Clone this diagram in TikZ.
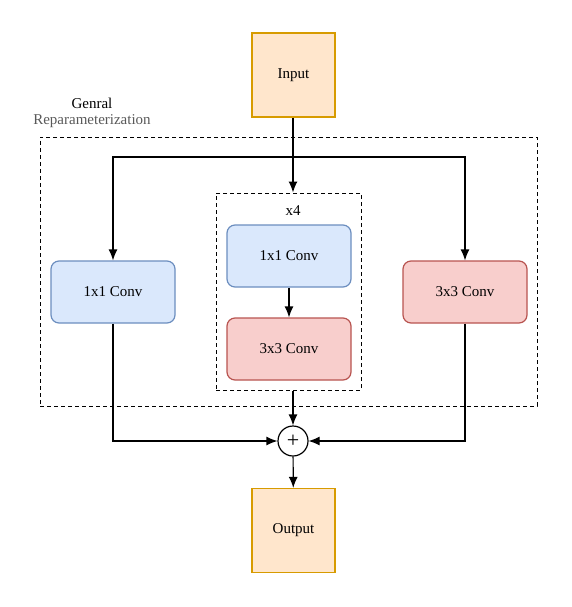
\documentclass[tikz,border=0pt]{standalone}
\usepackage{fontspec}
\setmainfont{Liberation Serif}
\usetikzlibrary{positioning, arrows.meta}
\definecolor{ioFill}{HTML}{FFE6CC}
\definecolor{ioLine}{HTML}{D79B00}
\definecolor{blueFill}{HTML}{DAE8FC}
\definecolor{blueLine}{HTML}{6C8EBF}
\definecolor{redFill}{HTML}{F8CECC}
\definecolor{redLine}{HTML}{B85450}
\begin{document}
\begin{tikzpicture}[x=1pt, y=-1pt, line width=1.2pt,
  font=\fontsize{15}{17}\selectfont,
  io/.style={draw=ioLine, fill=ioFill, minimum width=83pt, minimum height=84pt, inner sep=0pt},
  convA/.style={draw=blueLine, fill=blueFill, rounded corners=8pt, minimum width=124pt, minimum height=62pt, inner sep=0pt},
  convB/.style={convA, draw=redLine, fill=redFill},
  group/.style={draw, line width=1pt, dash pattern=on 4pt off 3pt, inner sep=0pt},
  flow/.style={-{Latex[length=11pt,width=9pt]}}]
\useasboundingbox (0,0) rectangle (571,607);
\node[io](In)at(293.5,75){Input};
\node[group, minimum width=497pt, minimum height=269pt](Outer)at(288.5,271.5){};
\node[](Lbl)at(92,103){Genral};
\node[text=black!65](Lbl2)at(92,121){Reparameterization};
\node[group, minimum width=145pt, minimum height=197pt](Inner)at(288.5,291.5){};
\node[](Rep)at(293,211){x4};
\node[convA](C1)at(289,256){1x1 Conv};
\node[convB](C3)at(289,349){3x3 Conv};
\node[convA](L1)at(113,292){1x1 Conv};
\node[convB](R3)at(465,292){3x3 Conv};
\node[draw, circle, minimum size=30pt, inner sep=0pt, font=\fontsize{22}{22}\selectfont](Add)at(293,441){+};
\node[io](Out)at(293.5,530.5){Output};
\coordinate(Br)at(293,157);
%
\draw[flow](In.south -| Br)--(Br |- Inner.north);
\draw[flow](Br)-|(L1.north);
\draw[flow](Br)-|(R3.north);
\draw[flow](C1)--(C3);
\draw[flow](Add |- Inner.south)--(Add);
\draw[flow](L1)|-(Add);
\draw[flow](R3)|-(Add);
\draw[flow](Add)--(Out);
\end{tikzpicture}
\end{document}
